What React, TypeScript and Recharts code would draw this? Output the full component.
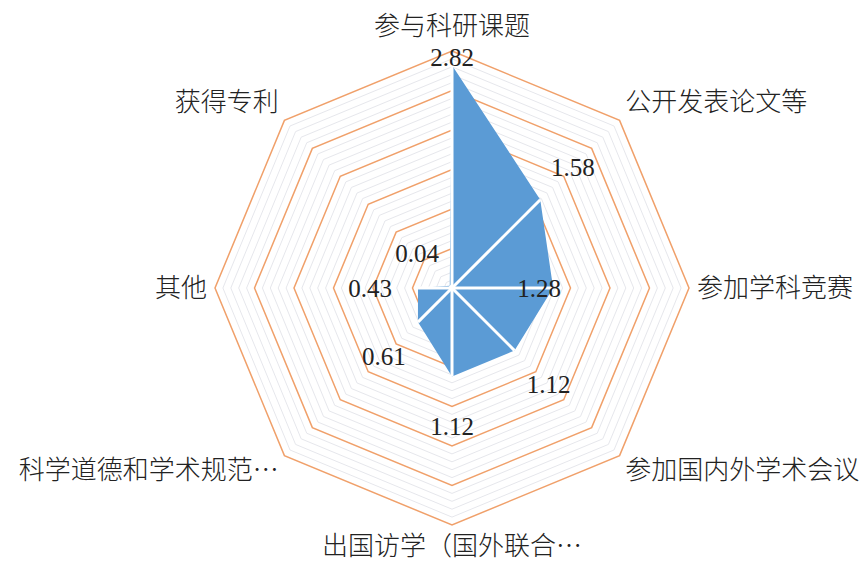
import React from "react";
import { RadarChart, Radar, PolarGrid, PolarAngleAxis, PolarRadiusAxis } from "recharts";

const categories = [
  "参与科研课题",
  "公开发表论文等",
  "参加学科竞赛",
  "参加国内外学术会议",
  "出国访学（国外联合…",
  "科学道德和学术规范…",
  "其他",
  "获得专利",
];
const values = [2.82, 1.58, 1.28, 1.12, 1.12, 0.61, 0.43, 0.04];

const domainMax = 3;
const majorTicks = [0.5, 1, 1.5, 2, 2.5, 3];
const minorTicks = [
  0.1, 0.2, 0.3, 0.4, 0.6, 0.7, 0.8, 0.9, 1.1, 1.2, 1.3, 1.4, 1.6, 1.7, 1.8, 1.9,
  2.1, 2.2, 2.3, 2.4, 2.6, 2.7, 2.8, 2.9,
];

// distance of each value label from its point (style only)
const labelGap = [8, 46, -14, 48, 50, 48, 48, 46];

const OUTER = 237;
const CX = 452;
const CY = 288;

const data = categories.map((name, i) => ({ name, value: values[i] }));
const toR = (t: number) => (t / domainMax) * OUTER;

const RAD = Math.PI / 180;

const RadarShape = (props: any) => {
  const pts = props.points || [];
  const d = pts.map((p: any, i: number) => `${i ? "L" : "M"}${p.x},${p.y}`).join("") + "Z";
  return (
    <g>
      <path d={d} fill="#5B9BD5" stroke="none" />
      {pts.map((p: any, i: number) => (
        <line key={"s" + i} x1={p.cx} y1={p.cy} x2={p.x} y2={p.y} stroke="#fff" strokeWidth={3} />
      ))}
      {pts.map((p: any, i: number) => {
        const dx = Math.cos(-p.angle * RAD);
        const dy = Math.sin(-p.angle * RAD);
        return (
          <text
            key={"l" + i}
            x={p.x + dx * labelGap[i]}
            y={p.y + dy * labelGap[i]}
            textAnchor="middle"
            dominantBaseline="central"
            fontFamily="'Liberation Serif', 'DejaVu Serif', serif"
            fontSize={25}
            fill="#222"
          >
            {values[i].toFixed(2)}
          </text>
        );
      })}
    </g>
  );
};

const AngleTick = (props: any) => {
  const { x, y, payload, textAnchor } = props;
  const s = Math.sin((payload.coordinate || 0) * RAD);
  return (
    <text
      x={x}
      y={y - s * (s < 0 ? 13 : 17) - 3}
      textAnchor={textAnchor}
      dominantBaseline="central"
      fontFamily="'Noto Sans CJK SC', sans-serif"
      fontWeight={300}
      fontSize={26}
      fill="#222"
    >
      {payload.value}
    </text>
  );
};

export default function App() {
  return (
    <div style={{ position: "absolute", left: 0, top: 0, background: "#fff" }}>
      <RadarChart
        width={867}
        height={562}
        data={data}
        cx={CX}
        cy={CY}
        outerRadius={OUTER}
        margin={{ top: 0, right: 0, bottom: 0, left: 0 }}
      >
        <PolarGrid
          gridType="polygon"
          radialLines={false}
          polarRadius={minorTicks.map(toR)}
          stroke="#E6E7EC"
          strokeWidth={1}
        />
        <PolarGrid
          gridType="polygon"
          radialLines={false}
          polarRadius={majorTicks.map(toR)}
          stroke="#F0A06A"
          strokeWidth={1.5}
        />
        <PolarAngleAxis dataKey="name" tick={<AngleTick />} tickLine={false} axisLine={false} />
        <PolarRadiusAxis domain={[0, domainMax]} tick={false} axisLine={false} tickCount={7} />
        <Radar
          dataKey="value"
          isAnimationActive={false}
          dot={false}
          shape={<RadarShape />}
        />
      </RadarChart>
    </div>
  );
}
